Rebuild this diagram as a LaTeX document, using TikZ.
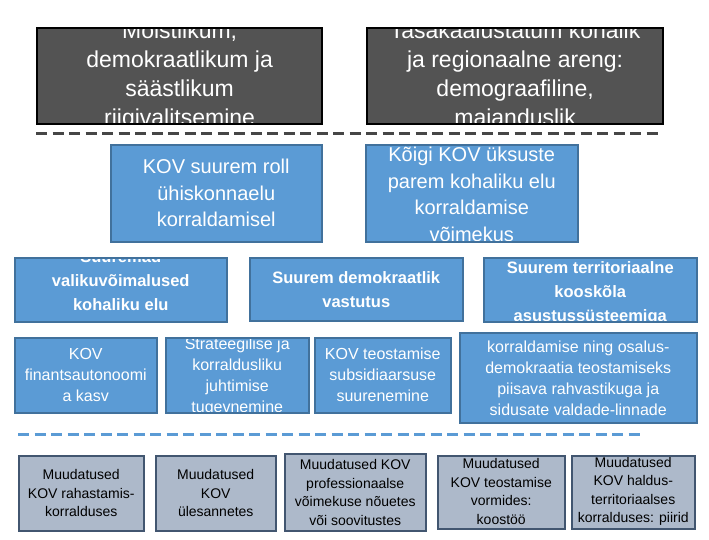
\documentclass[tikz,border=0pt]{standalone}
\usepackage{fontspec}
\setmainfont{Liberation Sans}
\usetikzlibrary{positioning}

\definecolor{darkfill}{RGB}{83,83,83}
\definecolor{bluefill}{RGB}{91,155,213}
\definecolor{blueline}{RGB}{65,113,156}
\definecolor{grayfill}{RGB}{173,185,202}
\definecolor{grayline}{RGB}{66,86,112}
\definecolor{sepgray}{RGB}{70,70,70}

\begin{document}
\begin{tikzpicture} [x=1pt, y=-1pt,
      box/.style={anchor=north west, inner sep=0pt, line width=1.5pt},
      darkbox/.style={box, draw=black, fill=darkfill, line width=2.2pt},
      bluebox/.style={box, draw=blueline, fill=bluefill},
      graybox/.style={box, draw=grayline, fill=grayfill},
      toptext/.style={text=white, font=\fontsize{23}{29}\selectfont},
      midtext/.style={text=white, font=\fontsize{20}{26.5}\selectfont},
      boldtext/.style={text=white, font=\bfseries\fontsize{16.5}{24}\selectfont},
      smalltext/.style={text=white, font=\fontsize{16}{21}\selectfont},
      basetext/.style={text=black, font=\fontsize{14}{18.5}\selectfont},
      says/.style 2 args={path picture={
        \node[draw=none, fill=none, anchor=center, inner sep=0pt,
        minimum size=0pt, align=center, #1]
        at (path picture bounding box.center) {#2};}},
      sepline/.style={line width=3pt, dash pattern=on 11pt off 5.5pt}]
      \useasboundingbox (0,0) rectangle (709,539);

      % goals
      \node[darkbox, minimum width=285, minimum height=96,
      says={toptext}{Mõistlikum,\\demokraatlikum ja\\säästlikum\\riigivalitsemine}]
      (riik) at (36,27) {};
      \node[darkbox, minimum width=296, minimum height=96,
      says={toptext}{Tasakaalustatum kohalik\\ja regionaalne areng:\\demograafiline,\\majanduslik}]
      (regioon) at (366,27) {};
      \draw[sepline, draw=sepgray] (36,133) -- (660,133);

      \node[bluebox, minimum width=211, minimum height=97,
      says={midtext}{KOV suurem roll\\ühiskonnaelu\\korraldamisel}]
      (roll) at (110,144) {};
      \node[bluebox, minimum width=212, minimum height=97,
      says={midtext, yshift=-1}{Kõigi KOV üksuste\\parem kohaliku elu\\korraldamise\\võimekus}]
      (voimekus) at (365,144) {};

      \node[bluebox, minimum width=212, minimum height=64,
      says={boldtext, yshift=-3}{Suuremad\\valikuvõimalused\\kohaliku elu\\korraldamisel}]
      (valik) at (14,257) {};
      \node[bluebox, minimum width=213, minimum height=63,
      says={boldtext}{Suurem demokraatlik\\vastutus}]
      (vastutus) at (249,257) {};
      \node[bluebox, minimum width=213, minimum height=64,
      says={boldtext, yshift=-4}{Suurem territoriaalne\\kooskõla\\asustussüsteemiga}]
      (kooskola) at (483,257) {};

      \node[bluebox, minimum width=142, minimum height=75,
      says={smalltext}{KOV\\finantsautonoomi\\a kasv}]
      (finants) at (14,337) {};
      \node[bluebox, minimum width=143, minimum height=75,
      says={smalltext, yshift=-2}{Strateegilise ja\\korraldusliku\\juhtimise\\tugevnemine}]
      (strateegia) at (165,337) {};
      \node[bluebox, minimum width=136, minimum height=75,
      says={smalltext}{KOV teostamise\\subsidiaarsuse\\suurenemine}]
      (subsid) at (314,337) {};
      \node[bluebox, minimum width=237, minimum height=90,
      says={smalltext, yshift=-1}{korraldamise ning osalus-\\demokraatia teostamiseks\\piisava rahvastikuga ja\\sidusate valdade-linnade}]
      (rahvastik) at (459,332) {};
      \draw[sepline, draw=bluefill] (18,434) -- (643,434);

      % changes
      \node[graybox, minimum width=125, minimum height=75,
      says={basetext}{Muudatused\\KOV rahastamis-\\korralduses}]
      (rahastus) at (18,455) {};
      \node[graybox, minimum width=120, minimum height=75,
      says={basetext}{Muudatused\\KOV\\ülesannetes}]
      (ylesanded) at (155,455) {};
      \node[graybox, minimum width=141, minimum height=77,
      says={basetext}{Muudatused KOV\\professionaalse\\võimekuse nõuetes\\või soovitustes}]
      (prof) at (284,453) {};
      \node[graybox, minimum width=127, minimum height=73,
      says={basetext, yshift=1}{Muudatused\\KOV teostamise\\vormides:\\koostöö}]
      (vormid) at (437,455) {};
      \node[graybox, minimum width=123, minimum height=73,
      says={basetext, yshift=1}{Muudatused\\KOV haldus-\\territoriaalses\\korralduses: piirid}]
      (piirid) at (571,455) {};
    \end{tikzpicture}
\end{document}
